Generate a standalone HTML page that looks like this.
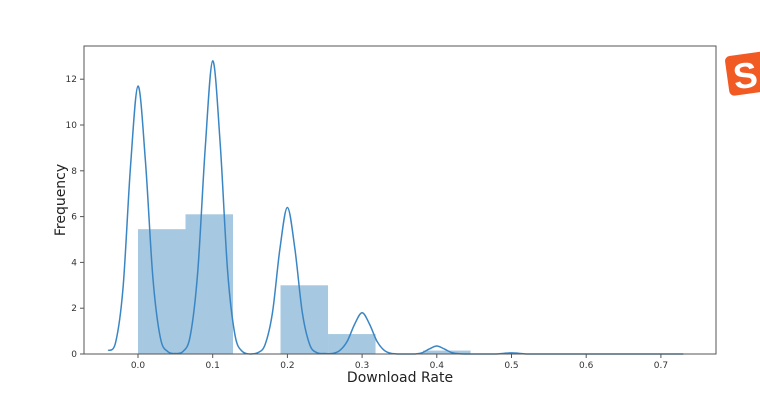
<!DOCTYPE html>
<html><head><meta charset="utf-8"><style>
html,body{margin:0;padding:0;background:#fff;}
svg{display:block;font-family:"DejaVu Sans","Liberation Sans",sans-serif;}
</style></head><body>
<svg id="chart" width="760" height="414" viewBox="0 0 760 414">
  <g transform="rotate(-8 745 74)">
    <rect x="727" y="54" width="40" height="40" rx="5" fill="#f25a24"/>
    <text x="733" y="88" font-size="36" font-weight="bold" fill="#fff" font-family="Liberation Sans, sans-serif">S</text>
  </g>
  <g id="bars"></g>
  <g id="kde"></g>
  <rect x="84" y="46" width="632" height="308" fill="none" stroke="#555" stroke-width="1"/>
  <g id="xticks"></g>
  <g id="yticks"></g>
  <text x="400" y="382" font-size="14" text-anchor="middle" fill="#222">Download Rate</text>
  <text transform="translate(65 200) rotate(-90)" font-size="14" text-anchor="middle" fill="#222">Frequency</text>
</svg>
<script>
const binStart = 0.0;
const binWidth = 0.0636;
const binValues = [5.45, 6.1, 0, 3.0, 0.87, 0, 0.15, 0, 0, 0, 0];
const kdeStart = -0.04;
const kdeStep = 0.01;
const kdeValues = [0.15,0.5,2.9,8.2,11.7,8.4,3.3,0.7,0.1,0.02,0.1,0.8,3.6,9.0,12.8,9.2,3.6,0.8,0.1,0.0,0.05,0.4,1.8,4.6,6.4,4.6,1.8,0.4,0.05,0.02,0.02,0.15,0.55,1.3,1.8,1.3,0.55,0.15,0.02,0,0,0,0.05,0.22,0.35,0.22,0.06,0.01,0,0,0,0,0,0.03,0.05,0.03,0,0,0,0,0,0,0,0,0,0,0,0,0,0,0,0,0,0,0,0,0,0,0];
const xTickValues = [0.0,0.1,0.2,0.3,0.4,0.5,0.6,0.7];
const xTickLabels = ["0.0","0.1","0.2","0.3","0.4","0.5","0.6","0.7"];
const yTickValues = [0,2,4,6,8,10,12];
const yTickLabels = ["0","2","4","6","8","10","12"];

const NS = "http://www.w3.org/2000/svg";
function xs(v){ return 138 + v * 747; }
function ys(v){ return 354 - v * 22.9; }
function mk(tag, attrs, parent){ const e=document.createElementNS(NS,tag); for(const k in attrs) e.setAttribute(k,attrs[k]); parent.appendChild(e); return e; }

const bars=document.getElementById('bars');
binValues.forEach((v,i)=>{
  if(v<=0) return;
  const x0=xs(binStart+i*binWidth), x1=xs(binStart+(i+1)*binWidth);
  const r=mk('rect',{x:x0,y:ys(v),width:x1-x0,height:ys(0)-ys(v),fill:'#a6c8e0'},bars);
  
  
});

const pts=kdeValues.map((v,i)=>[xs(kdeStart+i*kdeStep), ys(v)]).filter(p=>p[0]<=xs(0.735));
let d='M'+pts[0][0]+','+pts[0][1];
for(let i=0;i<pts.length-1;i++){
  const p0=pts[Math.max(0,i-1)],p1=pts[i],p2=pts[i+1],p3=pts[Math.min(pts.length-1,i+2)];
  const c1=[p1[0]+(p2[0]-p0[0])/6, p1[1]+(p2[1]-p0[1])/6];
  const c2=[p2[0]-(p3[0]-p1[0])/6, p2[1]-(p3[1]-p1[1])/6];
  c1[1]=Math.min(c1[1],354); c2[1]=Math.min(c2[1],354);
  d+=' C'+c1[0]+','+c1[1]+' '+c2[0]+','+c2[1]+' '+p2[0]+','+p2[1];
}
const line=mk('path',{d:d,fill:'none',stroke:'#3a86c4','stroke-width':1.5},document.getElementById('kde'));



const xt=document.getElementById('xticks');
xTickValues.forEach((v,i)=>{
  const x=xs(v);
  mk('line',{x1:x,x2:x,y1:354,y2:358,stroke:'#555'},xt);
  const t=mk('text',{x:x,y:368,'font-size':9,'text-anchor':'middle',fill:'#333'},xt);
  t.textContent=xTickLabels[i];
  
  
});
const yt=document.getElementById('yticks');
yTickValues.forEach((v,i)=>{
  const y=ys(v);
  mk('line',{x1:80,x2:84,y1:y,y2:y,stroke:'#555'},yt);
  const t=mk('text',{x:77,y:y+3,'font-size':9,'text-anchor':'end',fill:'#333'},yt);
  t.textContent=yTickLabels[i];
  
  
});
</script>
</body></html>
